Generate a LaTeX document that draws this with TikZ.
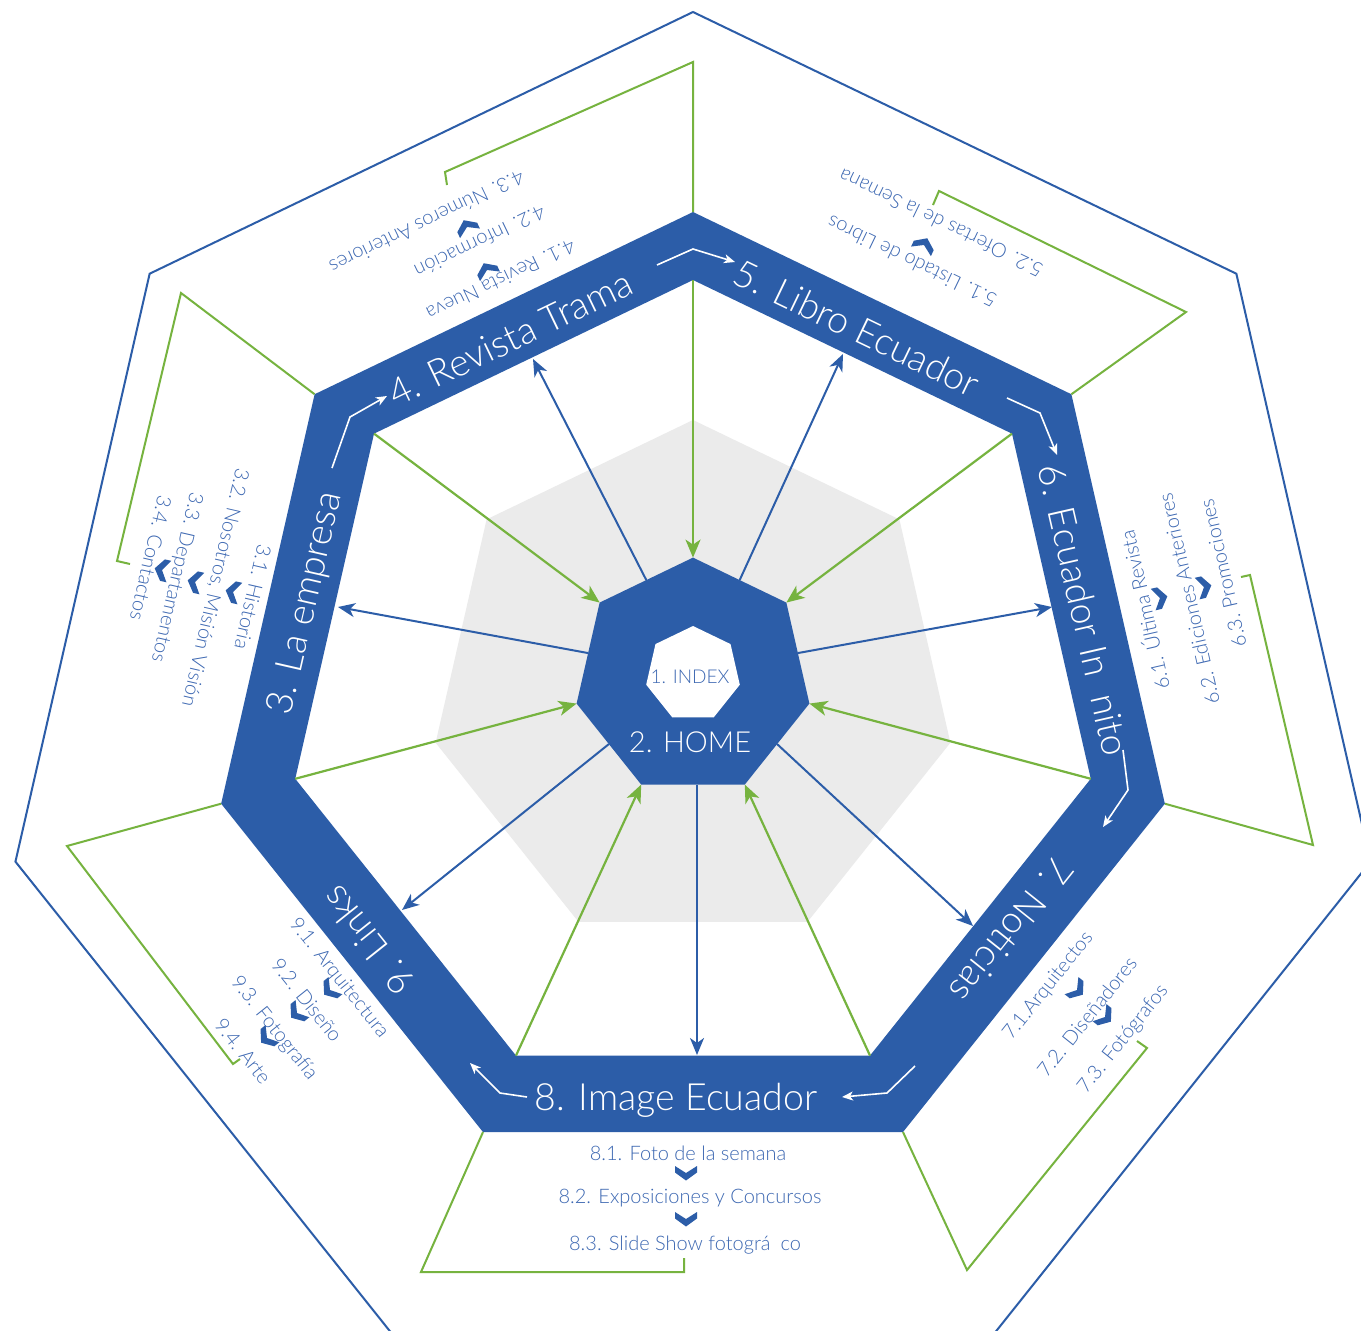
\documentclass[tikz,border=0pt]{standalone}
\usepackage{fontspec}
\IfFontExistsTF{Lato Light}{\setmainfont{Lato Light}}{\setmainfont{Lato}}
\usetikzlibrary{calc,arrows.meta}
\definecolor{hblue}{HTML}{2C5DA8}
\definecolor{hgreen}{HTML}{76B33F}
\definecolor{hgray}{HTML}{EBEBEB}
\definecolor{tblue}{HTML}{3D68B2}
\begin{document}
\begin{tikzpicture}[x=1pt,y=-1pt,
  bandlbl/.style={text=white,inner sep=0pt,font=\fontsize{37.5}{40}\selectfont,text height=26.9pt,text depth=0pt},
  sublbl/.style={text=tblue,inner sep=0pt,font=\fontsize{20}{22}\selectfont,text height=14.3pt,text depth=0pt},
  bluearrow/.style={draw=hblue,line width=2pt,-{Stealth[length=17pt,width=14pt,inset=5pt]}},
  greenarrow/.style={draw=hgreen,line width=2.2pt,-{Stealth[length=18pt,width=15pt,inset=5pt]}},
  whitearrow/.style={draw=white,line width=1.6pt,-{Stealth[length=11pt,width=9pt,inset=3pt]}},
  bracket/.style={draw=hgreen,line width=2pt},
  chev/.pic={\fill[hblue] (-11,-7) -- (0,0) -- (11,-7) -- (11,-0.5) -- (0,7.5) -- (-11,-0.5) -- cycle;}
]
\useasboundingbox (0,0) rectangle (1361,1331);
\clip (0,0) rectangle (1361,1331);
\fill[white] (0,0) rectangle (1361,1331);
% geometry
\foreach \k in {0,...,6}{
  \pgfmathsetmacro\ang{-90+\k*360/7}
  \pgfmathsetmacro\angm{\ang+180/7}
  \coordinate (o\k) at ($(693,707)+(\ang:695)$);
  \coordinate (bo\k) at ($(693,696)+(\ang:484)$);
  \coordinate (bi\k) at ($(693,688)+(\ang:408)$);
  \coordinate (g\k) at ($(693,684)+(\ang:264)$);
  \coordinate (h\k) at ($(693,677)+(\ang:119.4)$);
  \coordinate (hm\k) at ($(693,677)+(\angm:107.6)$);
  \coordinate (w\k) at ($(693,674)+(\ang:48)$);
}
% outer thin heptagon
\draw[hblue,line width=2pt,line join=miter] (o0)--(o1)--(o2)--(o3)--(o4)--(o5)--(o6)--cycle;
% gray heptagon
\fill[hgray] (g0)--(g1)--(g2)--(g3)--(g4)--(g5)--(g6)--cycle;
% band
\fill[hblue,even odd rule] (bo0)--(bo1)--(bo2)--(bo3)--(bo4)--(bo5)--(bo6)--cycle
  (bi0)--(bi1)--(bi2)--(bi3)--(bi4)--(bi5)--(bi6)--cycle;
% green brackets
\coordinate (k4a) at (693,62);   \coordinate (k4b) at (445,172);  \coordinate (k4c) at (447,185);
\coordinate (k5a) at (1186,312); \coordinate (k5b) at (939,191);  \coordinate (k5c) at (933,205);
\coordinate (k6a) at (1313,845); \coordinate (k6b) at (1250,575); \coordinate (k6c) at (1241,577);
\coordinate (k7a) at (967,1270); \coordinate (k7b) at (1147,1048);\coordinate (k7c) at (1137,1041);
\coordinate (k8a) at (421,1272); \coordinate (k8b) at (684,1272); \coordinate (k8c) at (684,1258);
\coordinate (k9a) at (67,846);   \coordinate (k9b) at (233,1064); \coordinate (k9c) at (240,1059);
\coordinate (k3a) at (181,293);  \coordinate (k3b) at (117,561);  \coordinate (k3c) at (130,564);
\draw[bracket] (bo0)--(k4a)--(k4b)--(k4c);
\draw[bracket] (bo1)--(k5a)--(k5b)--(k5c);
\draw[bracket] (bo2)--(k6a)--(k6b)--(k6c);
\draw[bracket] (bo3)--(k7a)--(k7b)--(k7c);
\draw[bracket] (bo4)--(k8a)--(k8b)--(k8c);
\draw[bracket] (bo5)--(k9a)--(k9b)--(k9c);
\draw[bracket] (bo6)--(k3a)--(k3b)--(k3c);
% blue arrows (home -> sections)
\coordinate (t3) at (338,607);
\coordinate (t4) at (533,359);
\coordinate (t5) at (843,354);
\coordinate (t6) at (1052,607);
\coordinate (t7) at (973,926);
\coordinate (t8) at (697,1055);
\coordinate (t9) at (402,910);
\coordinate (s8) at (697,785);
\draw[bluearrow] (hm5)--(t3);
\draw[bluearrow] (hm6)--(t4);
\draw[bluearrow] (hm0)--(t5);
\draw[bluearrow] (hm1)--(t6);
\draw[bluearrow] (hm2)--(t7);
\draw[bluearrow] (s8)--(t8);
\draw[bluearrow] (hm4)--(t9);
% green arrows (sections -> home)
\foreach \k in {0,...,6}{\draw[greenarrow] (bi\k)--(h\k);}
% center heptagons
\fill[hblue] (h0)--(h1)--(h2)--(h3)--(h4)--(h5)--(h6)--cycle;
\fill[white] (w0)--(w1)--(w2)--(w3)--(w4)--(w5)--(w6)--cycle;
\node[text=tblue,inner sep=0pt,font=\fontsize{19}{20}\selectfont,text height=13.6pt,text depth=0pt] (index) at (690,677) {1. INDEX};
\node[text=white,inner sep=0pt,font=\fontsize{29}{30}\selectfont,text height=20.8pt,text depth=0pt] (home) at (690,742) {2. HOME};
% white arrows in band
\coordinate (a1a) at (332,468);  \coordinate (a1b) at (350,417);  \coordinate (a1c) at (387,396);
\coordinate (a2a) at (657,265);  \coordinate (a2b) at (693,249);  \coordinate (a2c) at (735,262);
\coordinate (a3a) at (1007,398); \coordinate (a3b) at (1040,413); \coordinate (a3c) at (1057,455);
\coordinate (a4a) at (1123,750); \coordinate (a4b) at (1128,790); \coordinate (a4c) at (1103,827);
\coordinate (a5a) at (915,1066); \coordinate (a5b) at (887,1093); \coordinate (a5c) at (842,1097);
\coordinate (a6a) at (527,1097); \coordinate (a6b) at (500,1093); \coordinate (a6c) at (470,1063);
\draw[whitearrow] (a1a)--(a1b)--(a1c);
\draw[whitearrow] (a2a)--(a2b)--(a2c);
\draw[whitearrow] (a3a)--(a3b)--(a3c);
\draw[whitearrow] (a4a)--(a4b)--(a4c);
\draw[whitearrow] (a5a)--(a5b)--(a5c);
\draw[whitearrow] (a6a)--(a6b)--(a6c);
% band labels
\node[bandlbl,rotate=77.14]  (l3) at (303,603)  {3. La empresa};
\node[bandlbl,rotate=25.71]  (l4) at (510,338)  {4. Revista Trama};
\node[bandlbl,rotate=-25.71] (l5) at (857,328)  {5. Libro Ecuador};
\node[bandlbl,rotate=-77.14] (l6) at (1084,610) {6. Ecuador In\hspace{0.5em}nito};
\node[bandlbl,rotate=231.43] (l7) at (1012,930) {7. Noticias};
\node[bandlbl]               (l8) at (676,1097) {8. Image Ecuador};
\node[bandlbl,rotate=128.57] (l9) at (368,941)  {9. Links};
% section 3
\node[sublbl,rotate=-102.86] (s31) at (253,597) {3.1. Historia};
\node[sublbl,rotate=-102.86] (s32) at (216,588) {3.2. Nosotros, Misión Visión};
\node[sublbl,rotate=-102.86] (s33) at (178,578) {3.3. Departamentos};
\node[sublbl,rotate=-102.86] (s34) at (151,558) {3.4. Contactos};
\pic[rotate=-102.86] at (233,592) {chev};
\pic[rotate=-102.86] at (195,582) {chev};
\pic[rotate=-102.86] at (162,570) {chev};
% section 4
\node[sublbl,rotate=205.71] (s41) at (501,280) {4.1. Revista Nueva};
\node[sublbl,rotate=205.71] (s42) at (480,242) {4.2. Información};
\node[sublbl,rotate=205.71] (s43) at (427,222) {4.3. Números Anteriores};
\pic[rotate=205.71] at (487,270) {chev};
\pic[rotate=205.71] at (467,227) {chev};
% section 5
\node[sublbl,rotate=154.29] (s51) at (912,262) {5.1. Listado de Libros};
\node[sublbl,rotate=154.29] (s52) at (941,223) {5.2. Ofertas de la Semana};
\pic[rotate=154.29] at (924,245) {chev};
% section 6
\node[sublbl,rotate=102.86] (s61) at (1145,610) {6.1. Última Revista};
\node[sublbl,rotate=102.86] (s62) at (1189,599) {6.2. Ediciones Anteriores};
\node[sublbl,rotate=102.86] (s63) at (1223,573) {6.3. Promociones};
\pic[rotate=102.86] at (1160,598) {chev};
\pic[rotate=102.86] at (1204,587) {chev};
% section 7
\node[sublbl,rotate=51.43] (s71) at (1047,985)  {7.1.Arquitectos};
\node[sublbl,rotate=51.43] (s72) at (1087,1017) {7.2. Diseñadores};
\node[sublbl,rotate=51.43] (s73) at (1122,1038) {7.3. Fotógrafos};
\pic[rotate=51.43] at (1077,990) {chev};
\pic[rotate=51.43] at (1105,1017) {chev};
% section 8
\node[sublbl] (s81) at (688,1153) {8.1. Foto de la semana};
\node[sublbl] (s82) at (690,1196) {8.2. Exposiciones y Concursos};
\node[sublbl] (s83) at (685,1243) {8.3. Slide Show fotográ\hspace{0.5em}co};
\pic at (686,1173) {chev};
\pic at (686,1219) {chev};
% section 9
\node[sublbl,rotate=-51.43] (s91) at (340,977)  {9.1. Arquitectura};
\node[sublbl,rotate=-51.43] (s92) at (307,1000) {9.2. Diseño};
\node[sublbl,rotate=-51.43] (s93) at (275,1027) {9.3. Fotografía};
\node[sublbl,rotate=-51.43] (s94) at (243,1051) {9.4. Arte};
\pic[rotate=-51.43] at (330,990) {chev};
\pic[rotate=-51.43] at (297,1013) {chev};
\pic[rotate=-51.43] at (267,1038) {chev};
\end{tikzpicture}
\end{document}
